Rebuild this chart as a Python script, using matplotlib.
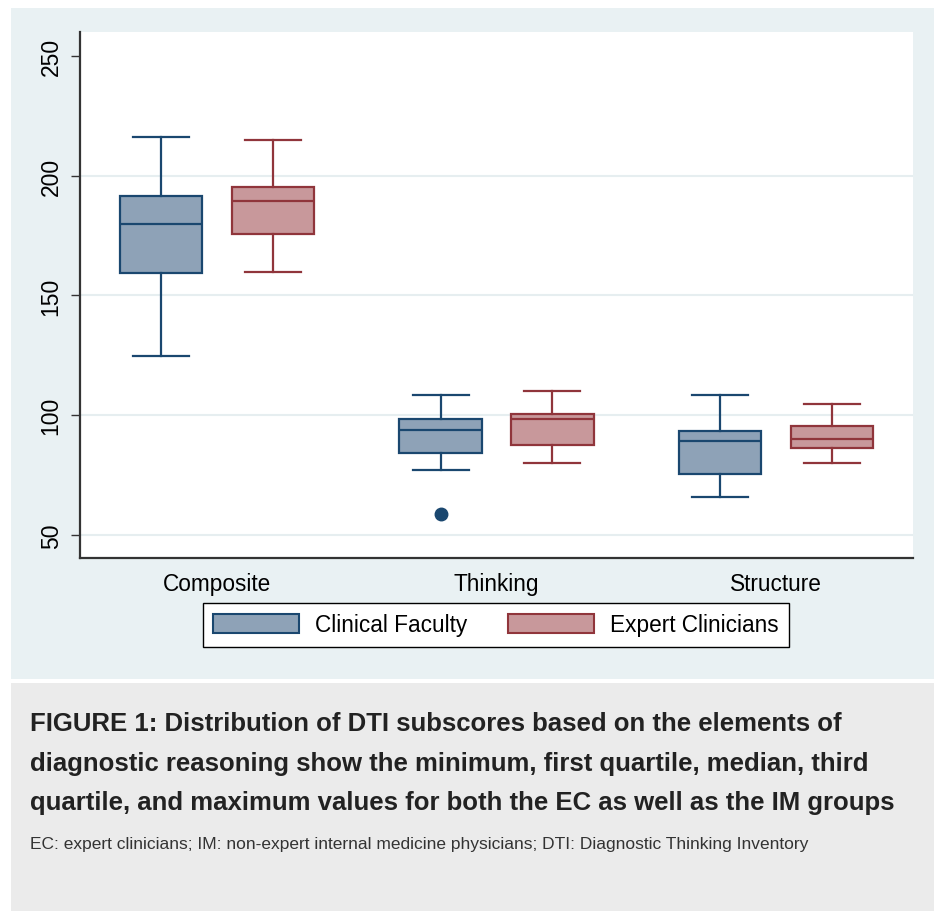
import matplotlib
matplotlib.use("Agg")
import matplotlib.pyplot as plt
from matplotlib.patches import Rectangle, Patch

plt.rcParams['font.family'] = ['Liberation Sans', 'DejaVu Sans']

categories = ["Composite", "Thinking", "Structure"]
groups = ["Clinical Faculty", "Expert Clinicians"]

# five-number summaries per category
cf_min = [124.9, 77.1, 66.0]
cf_q1 = [159.3, 84.1, 75.5]
cf_med = [180.0, 93.7, 89.1]
cf_q3 = [191.5, 98.6, 93.3]
cf_max = [216.1, 108.3, 108.3]
cf_out = [[], [58.8], []]

ec_min = [159.8, 80.0, 80.0]
ec_q1 = [175.6, 87.5, 86.5]
ec_med = [189.3, 98.3, 90.0]
ec_q3 = [195.3, 100.7, 95.4]
ec_max = [215.1, 110.1, 104.9]
ec_out = [[], [], []]

yticks = [50, 100, 150, 200, 250]

W, H = 934, 912
fig = plt.figure(figsize=(W / 100, H / 100), dpi=100)
fig.patch.set_facecolor("white")

# background panels
fig.patches.append(Rectangle((11 / W, 1 - 680 / H), 1 - 11 / W, (680 - 9) / H,
                             transform=fig.transFigure, facecolor="#e9f1f3",
                             edgecolor="none", zorder=-5))
fig.patches.append(Rectangle((11 / W, 0), 1 - 11 / W, (912 - 684) / H,
                             transform=fig.transFigure, facecolor="#ebebeb",
                             edgecolor="none", zorder=-5))

ax = fig.add_axes([80 / W, 1 - 559 / H, (913 - 80) / W, (559 - 33) / H])
ax.set_facecolor("white")

cf_edge, cf_fill = "#1a476f", "#8ea2b7"
ec_edge, ec_fill = "#90353b", "#c8989b"


def stats(mins, q1s, meds, q3s, maxs, outs):
    return [dict(whislo=a, q1=b, med=c, q3=d, whishi=e, fliers=f)
            for a, b, c, d, e, f in zip(mins, q1s, meds, q3s, maxs, outs)]


pos = list(range(1, len(categories) + 1))
for st, off, edge, fill in [
    (stats(cf_min, cf_q1, cf_med, cf_q3, cf_max, cf_out), -0.2, cf_edge, cf_fill),
    (stats(ec_min, ec_q1, ec_med, ec_q3, ec_max, ec_out), 0.2, ec_edge, ec_fill),
]:
    ax.bxp(st, positions=[p + off for p in pos], widths=0.295, capwidths=0.2,
           patch_artist=True, showfliers=True, manage_ticks=False,
           boxprops=dict(facecolor=fill, edgecolor=edge, linewidth=1.6),
           medianprops=dict(color=edge, linewidth=1.6),
           whiskerprops=dict(color=edge, linewidth=1.6),
           capprops=dict(color=edge, linewidth=1.6),
           flierprops=dict(marker="o", markerfacecolor=edge, markeredgecolor=edge,
                           markersize=9))

ax.set_xlim(0.51, 3.49)
ax.set_ylim(40.4, 260)
ax.set_xticks(pos)
ax.set_xticklabels(categories, fontsize=16.3)
ax.tick_params(axis="x", length=0, pad=10)
ax.set_yticks(yticks)
ax.set_yticklabels([str(v) for v in yticks], rotation=90, va="center", fontsize=16.5)
ax.tick_params(axis="y", length=6.5, width=1, color="#333333", pad=6)

ax.yaxis.grid(True, color="#e6eef0", linewidth=1.5)
ax.set_axisbelow(True)
ax.get_ygridlines()[-1].set_visible(False)

for s in ["top", "right"]:
    ax.spines[s].set_visible(False)
for s in ["left", "bottom"]:
    ax.spines[s].set_color("#333333")
    ax.spines[s].set_linewidth(1.6)

handles = [Patch(facecolor=cf_fill, edgecolor=cf_edge, linewidth=1.5),
           Patch(facecolor=ec_fill, edgecolor=ec_edge, linewidth=1.5)]
leg = fig.legend(handles, groups, loc="center", ncol=2,
                 bbox_to_anchor=(496 / W, 1 - 626 / H), fontsize=16.3,
                 frameon=True, fancybox=False, edgecolor="black",
                 handlelength=3.8, handleheight=0.95, handletextpad=0.7,
                 columnspacing=1.8, borderpad=0.45)
leg.get_frame().set_linewidth(1.0)
leg.get_frame().set_facecolor("white")
leg.get_frame().set_alpha(1)

caption = ["FIGURE 1: Distribution of DTI subscores based on the elements of",
           "diagnostic reasoning show the minimum, first quartile, median, third",
           "quartile, and maximum values for both the EC as well as the IM groups"]
for i, line in enumerate(caption):
    fig.text(30 / W, 1 - (724 + 39.5 * i) / H, line, ha="left", va="center",
             fontsize=18.5, fontweight="bold", color="#222222")
fig.text(30 / W, 1 - 845 / H,
         "EC: expert clinicians; IM: non-expert internal medicine physicians; DTI: Diagnostic Thinking Inventory",
         ha="left", va="center", fontsize=12.55, color="#333333")

fig.savefig("out.png", dpi=100, facecolor=fig.get_facecolor())
